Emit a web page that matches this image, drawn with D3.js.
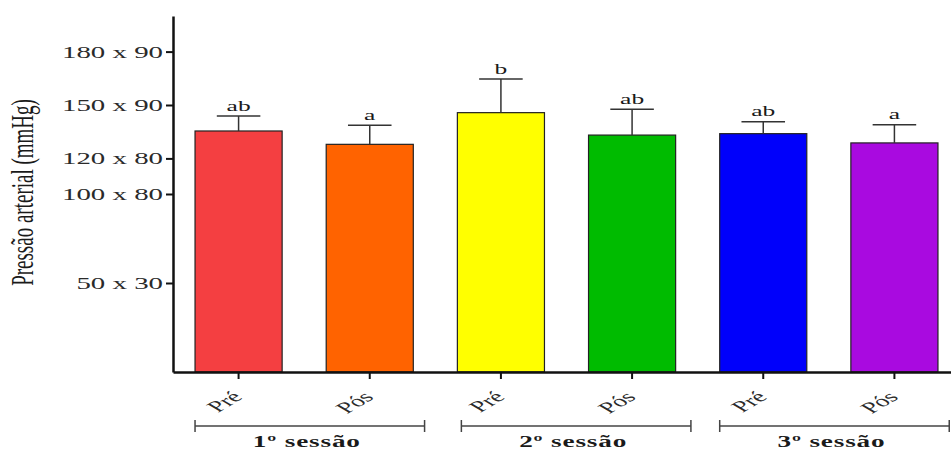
<!DOCTYPE html>
<html>
<head>
<meta charset="utf-8">
<script src="https://cdn.jsdelivr.net/npm/d3@7"></script>
<style>
  body { margin: 0; background: #fff; }
  svg text { font-family: "Liberation Serif", "DejaVu Serif", serif; fill: #1a1a1a; }
</style>
</head>
<body>
<svg id="chart" width="951" height="451"></svg>
<script>
// data (systolic value drives the bar height)
var categories = ["pre1", "pos1", "pre2", "pos2", "pre3", "pos3"]
var tickNames = ["Pré", "Pós", "Pré", "Pós", "Pré", "Pós"]
var means = [135.4, 127.9, 145.7, 133.1, 133.9, 128.7]
var errTops = [143.8, 138.6, 164.6, 147.6, 140.6, 138.9]
var letters = ["ab", "a", "b", "ab", "ab", "a"]
var barColors = ["#f43f41", "#ff6300", "#ffff00", "#00bb00", "#0000fb", "#a90ae0"]
var sessions = ["1º sessão", "2º sessão", "3º sessão"]
var yTickValues = [50, 100, 120, 150, 180]
var yTickLabels = ["50 x 30", "100 x 80", "120 x 80", "150 x 90", "180 x 90"]

const SX = 1.7   // the original picture is stretched sideways

const dims = {
    left: 173,
    right: 960,
    top: 16,
    bottom: 372
}

var svg = d3.select("#chart")

var yScale = d3.scaleLinear().domain([0, 200]).range([dims.bottom, dims.top])
var xScale = d3.scaleBand().domain(categories).range([dims.left, dims.right])
    .paddingInner(0.336).paddingOuter(0.168)

// bars
svg.selectAll(".bar")
    .data(categories)
    .join("rect")
        .attr("class", "bar")
        .attr("x", d => xScale(d))
        .attr("width", xScale.bandwidth())
        .attr("y", (d, i) => yScale(means[i]))
        .attr("height", (d, i) => yScale(0) - yScale(means[i]))
        .attr("fill", (d, i) => barColors[i])
        .attr("stroke", "#222")
        .attr("stroke-width", 1.2)

// error bars (upper only)
var capW = xScale.bandwidth() / 2
categories.forEach(function(c, i){
    var cx = xScale(c) + xScale.bandwidth() / 2
    svg.append("line")
        .attr("x1", cx).attr("x2", cx)
        .attr("y1", yScale(means[i])).attr("y2", yScale(errTops[i]))
        .attr("stroke", "#333").attr("stroke-width", 1.5)
    svg.append("line")
        .attr("x1", cx - capW / 2).attr("x2", cx + capW / 2)
        .attr("y1", yScale(errTops[i])).attr("y2", yScale(errTops[i]))
        .attr("stroke", "#333").attr("stroke-width", 1.5)
    svg.append("text")
        .attr("transform", "translate(" + cx + "," + (yScale(errTops[i]) - 5.5) + ") scale(" + SX + ",1)")
        .attr("text-anchor", "middle")
        .style("font-size", "15px")
        .text(letters[i])
})

// y axis
var y_axis = svg.append("g")
    .attr("transform", "translate(" + dims.left + ",0)")
    .call(d3.axisLeft(yScale).tickValues(yTickValues).tickSize(7).tickSizeOuter(0)
        .tickFormat((d, i) => yTickLabels[i]))
y_axis.select(".domain").attr("stroke", "#111").attr("stroke-width", 2.5)
y_axis.selectAll(".tick line").attr("stroke", "#111").attr("stroke-width", 2)
y_axis.selectAll(".tick text")
    .attr("x", null).attr("dy", null)
    .attr("transform", "translate(-10,5.5) scale(" + SX + ",1)")
    .style("font-size", "17px")
    .style("fill", "#2a2a2a")

// x axis
var x_axis = svg.append("g")
    .attr("transform", "translate(0," + dims.bottom + ")")
    .call(d3.axisBottom(xScale).tickSize(7).tickSizeOuter(0)
        .tickFormat((d, i) => tickNames[i]))
x_axis.select(".domain").attr("stroke", "#111").attr("stroke-width", 2.5)
x_axis.selectAll(".tick line").attr("stroke", "#111").attr("stroke-width", 2)
x_axis.selectAll(".tick text")
    .attr("y", null).attr("dy", null)
    .attr("text-anchor", "end")
    .attr("transform", "translate(5,26) scale(" + SX + ",1) rotate(-45)")
    .style("font-size", "16px")
    .style("fill", "#2a2a2a")

// session brackets
var step = xScale.step()
sessions.forEach(function(s, k){
    var x0 = xScale(categories[k * 2]) + (k == 1 ? 4 : 0)
    var x1 = x0 + step * 1.75
    var by = 426
    var g = svg.append("g").attr("stroke", "#444").attr("stroke-width", 1.5)
    g.append("line").attr("x1", x0).attr("x2", x1).attr("y1", by).attr("y2", by)
    g.append("line").attr("x1", x0).attr("x2", x0).attr("y1", by - 6).attr("y2", by + 6)
    g.append("line").attr("x1", x1).attr("x2", x1).attr("y1", by - 6).attr("y2", by + 6)
    svg.append("text")
        .attr("transform", "translate(" + ((x0 + x1) / 2 - 3) + ",447) scale(" + SX + ",1)")
        .attr("text-anchor", "middle")
        .style("font-size", "16px")
        .style("font-weight", "bold")
        .style("letter-spacing", "0.5px")
        .text(s)
})

// y label
svg.append("text")
    .attr("transform", "translate(33,192.5) scale(" + SX + ",1) rotate(-90)")
    .attr("text-anchor", "middle")
    .style("font-size", "19px")
    .text("Pressão arterial (mmHg)")
</script>
</body>
</html>
